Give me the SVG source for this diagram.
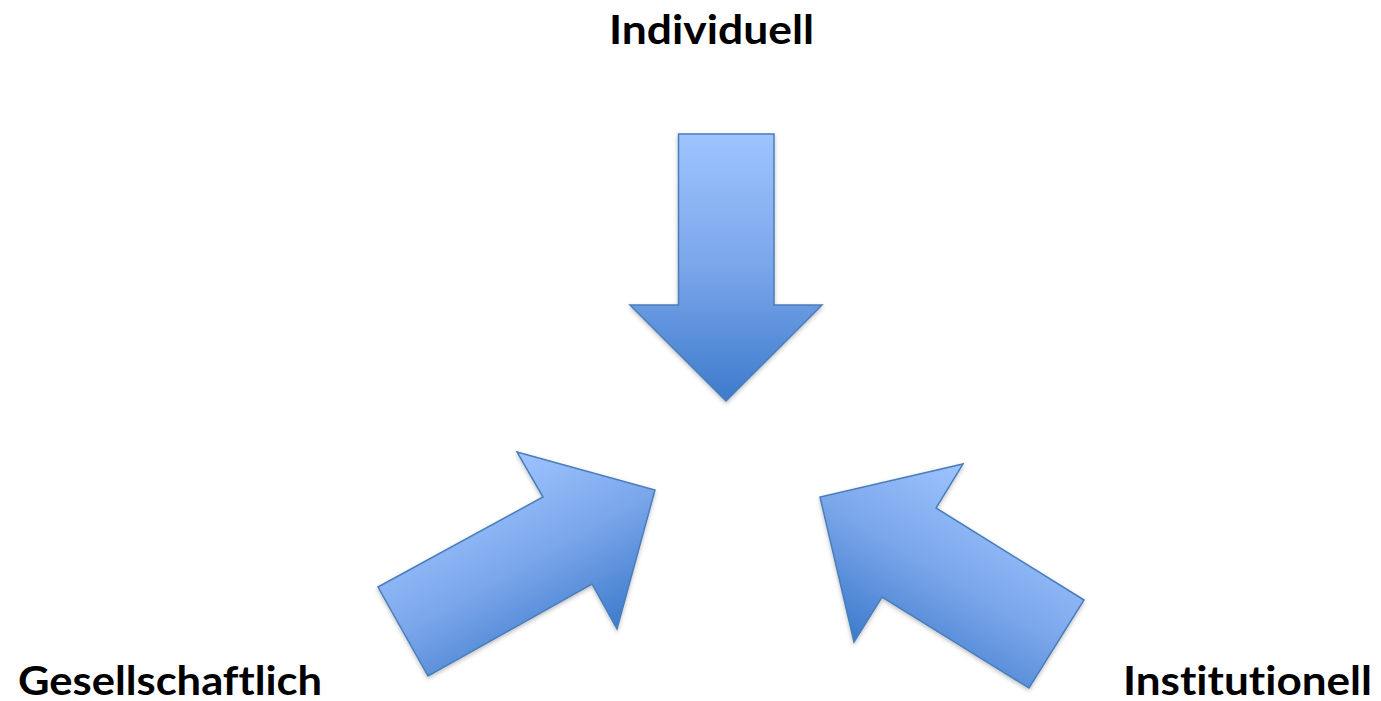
<svg xmlns="http://www.w3.org/2000/svg" width="1381" height="701" viewBox="0 0 1381 701">
  <style>
    .arrow { stroke: #4a7ebb; stroke-width: 1.5; stroke-linejoin: miter; filter: url(#soft); }
    .label { font-family: Lato, "Open Sans", "Liberation Sans", sans-serif; font-weight: bold; font-size: 40px; fill: #000;
             font-variant-ligatures: none; font-feature-settings: "liga" 0, "clig" 0; }
  </style>
  <defs>
    <filter id="soft" x="-10%" y="-10%" width="120%" height="120%">
      <feDropShadow dx="0" dy="2" stdDeviation="2" flood-color="#000" flood-opacity="0.25"/>
    </filter>
    <linearGradient id="gradDown" gradientUnits="userSpaceOnUse" x1="726" y1="134" x2="726" y2="401">
      <stop offset="0" stop-color="#9ec4ff"/>
      <stop offset="0.5" stop-color="#7aa6ea"/>
      <stop offset="1" stop-color="#3d7bcc"/>
    </linearGradient>
    <linearGradient id="gradLeft" gradientUnits="userSpaceOnUse" x1="517" y1="452" x2="617" y2="629">
      <stop offset="0" stop-color="#9ec4ff"/>
      <stop offset="0.5" stop-color="#7aa6ea"/>
      <stop offset="1" stop-color="#3d7bcc"/>
    </linearGradient>
    <linearGradient id="gradRight" gradientUnits="userSpaceOnUse" x1="963" y1="464" x2="854" y2="642">
      <stop offset="0" stop-color="#9ec4ff"/>
      <stop offset="0.5" stop-color="#7aa6ea"/>
      <stop offset="1" stop-color="#3d7bcc"/>
    </linearGradient>
  </defs>

  <!-- arrows converging on the centre -->
  <g id="arrows">
    <g id="arrow-individuell">
      <polygon class="arrow" fill="url(#gradDown)" points="678.5,134 774,134 774,305 822,305 726,401 630,305 678.5,305"/>
    </g>
    <g id="arrow-gesellschaftlich">
      <polygon class="arrow" fill="url(#gradLeft)" points="378,587 543,497 517,452 655,490 617,629 592,584 428,676"/>
    </g>
    <g id="arrow-institutionell">
      <polygon class="arrow" fill="url(#gradRight)" points="1084,600 936,508 963,464 820,497 854,642 882,597 1029,688"/>
    </g>
  </g>

  <!-- labels -->
  <g id="label-individuell">
    <text class="label" x="609" y="44" textLength="205" lengthAdjust="spacingAndGlyphs">Individuell</text>
  </g>
  <g id="label-gesellschaftlich">
    <text class="label" x="18" y="694.5" textLength="304" lengthAdjust="spacingAndGlyphs">Gesellschaftlich</text>
  </g>
  <g id="label-institutionell">
    <text class="label" x="1123" y="694.5" textLength="249" lengthAdjust="spacingAndGlyphs">Institutionell</text>
  </g>
</svg>
